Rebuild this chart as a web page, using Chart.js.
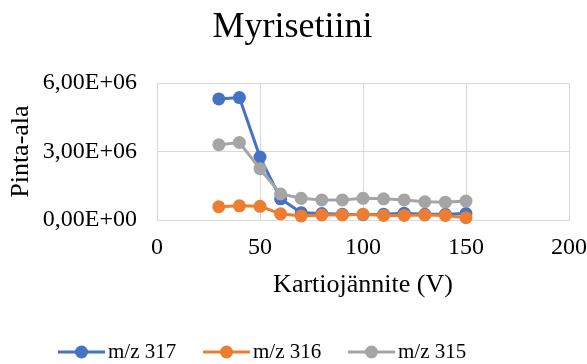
<!DOCTYPE html>
<html lang="fi">
<head>
  <meta charset="UTF-8" />
  <title>Myrisetiini</title>
  <script src="https://cdn.jsdelivr.net/npm/chart.js"></script>
  <style>
    html, body { margin: 0; padding: 0; background: #fff; }
    #wrap { width: 587px; height: 364px; }
  </style>
</head>
<body>
  <div id="wrap"><canvas id="chart"></canvas></div>

  <script>
    // Kartiojännite (V)
    const voltages = [30, 40, 50, 60, 70, 80, 90, 100, 110, 120, 130, 140, 150];

    // Pinta-ala per ion
    const mz317 = [5.31e6, 5.37e6, 2.76e6, 0.93e6, 0.32e6, 0.28e6, 0.25e6, 0.23e6, 0.25e6, 0.30e6, 0.25e6, 0.25e6, 0.28e6];
    const mz316 = [0.58e6, 0.62e6, 0.60e6, 0.27e6, 0.18e6, 0.22e6, 0.22e6, 0.25e6, 0.20e6, 0.20e6, 0.22e6, 0.20e6, 0.10e6];
    const mz315 = [3.30e6, 3.40e6, 2.25e6, 1.14e6, 0.95e6, 0.88e6, 0.88e6, 0.95e6, 0.93e6, 0.88e6, 0.80e6, 0.78e6, 0.83e6];

    const seriesLabels = ['m/z 317', 'm/z 316', 'm/z 315'];
    const seriesColors = ['#4472C4', '#ED7D31', '#A5A5A5'];

    const serif = '"Liberation Serif", "Times New Roman", serif';

    // "6,00E+06" style labels
    function sciLabel(v) {
      const [m, e] = Number(v).toExponential(2).split('e');
      const exp = parseInt(e, 10);
      const sign = exp < 0 ? '-' : '+';
      return m.replace('.', ',') + 'E' + sign + String(Math.abs(exp)).padStart(2, '0');
    }

    function toPoints(ys) {
      return voltages.map((x, i) => ({ x: x, y: ys[i] }));
    }

    // line + marker legend under the plot
    const lineLegend = {
      id: 'lineLegend',
      afterDraw(chart) {
        const ctx = chart.ctx;
        const y = 352;
        ctx.save();
        chart.data.datasets.forEach((ds, i) => {
          const x0 = 58 + i * 145;
          ctx.strokeStyle = ds.borderColor;
          ctx.lineWidth = 3;
          ctx.beginPath();
          ctx.moveTo(x0, y);
          ctx.lineTo(x0 + 47, y);
          ctx.stroke();
          ctx.fillStyle = ds.borderColor;
          ctx.beginPath();
          ctx.arc(x0 + 23.5, y, 6.5, 0, Math.PI * 2);
          ctx.fill();
          ctx.fillStyle = '#000';
          ctx.font = '21px ' + serif;
          ctx.textAlign = 'left';
          ctx.textBaseline = 'middle';
          ctx.fillText(ds.label, x0 + 50, y);
        });
        ctx.restore();
      }
    };

    const datasets = [mz317, mz316, mz315].map((vals, i) => ({
      label: seriesLabels[i],
      data: toPoints(vals),
      borderColor: seriesColors[i],
      backgroundColor: seriesColors[i],
      borderWidth: 3,
      pointRadius: 6.5,
      pointBorderWidth: 0,
      pointHoverRadius: 6.5,
      tension: 0,
      clip: false,
      order: 2 - i
    }));

    new Chart(document.getElementById('chart'), {
      type: 'line',
      data: { datasets: datasets },
      plugins: [lineLegend],
      options: {
        responsive: true,
        maintainAspectRatio: false,
        animation: false,
        layout: { padding: { left: 0, right: 2, top: 0, bottom: 63 } },
        plugins: {
          legend: { display: false },
          tooltip: { enabled: false },
          title: {
            display: true,
            text: 'Myrisetiini',
            color: '#000',
            font: { family: serif, size: 36, weight: 'normal' },
            padding: { top: 6, bottom: 34 }
          }
        },
        scales: {
          x: {
            type: 'linear',
            min: 0,
            max: 200,
            // keep the plot edge fixed instead of sizing it from the last label
            afterFit(scale) { scale.paddingRight = 18; scale.paddingLeft = 0; },
            ticks: {
              stepSize: 50,
              color: '#000',
              padding: 13,
              maxRotation: 0,
              font: { family: serif, size: 24 }
            },
            grid: { color: '#D9D9D9', drawTicks: false },
            border: { color: '#D9D9D9' },
            title: {
              display: true,
              text: 'Kartiojännite (V)',
              color: '#000',
              font: { family: serif, size: 26 },
              padding: { top: -5, bottom: 0 }
            }
          },
          y: {
            min: 0,
            max: 6e6,
            afterFit(scale) { scale.width = 157; },
            ticks: {
              stepSize: 3e6,
              color: '#000',
              padding: 20,
              font: { family: serif, size: 24 },
              callback: v => sciLabel(v)
            },
            grid: { color: '#D9D9D9', drawTicks: false },
            border: { display: false },
            title: {
              display: true,
              text: 'Pinta-ala',
              color: '#000',
              font: { family: serif, size: 26 },
              padding: { top: 6, bottom: 0 }
            }
          }
        }
      }
    });
  </script>
</body>
</html>
